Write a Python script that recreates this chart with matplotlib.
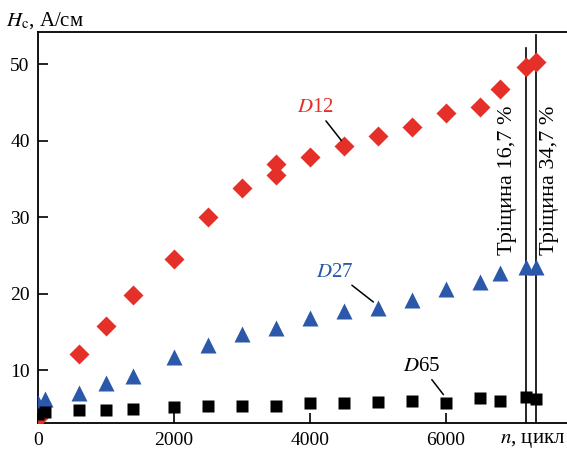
import numpy as np
import matplotlib.pyplot as plt

plt.rcParams['font.family'] = ['Liberation Serif', 'DejaVu Serif']
plt.rcParams['mathtext.fontset'] = 'stix'

# cycles, n
n_d12 = [0, 600, 1000, 1400, 2000, 2500, 3000, 3500, 3500, 4000, 4500, 5000, 5500, 6000, 6500, 6800, 7170, 7320]
hc_d12 = [3.8, 12.2, 15.8, 19.9, 24.5, 30.0, 33.8, 35.5, 36.9, 37.9, 39.3, 40.6, 41.8, 43.6, 44.4, 46.7, 49.6, 50.3]

n_d27 = [0, 100, 600, 1000, 1400, 2000, 2500, 3000, 3500, 4000, 4500, 5000, 5500, 6000, 6500, 6800, 7170, 7320]
hc_d27 = [5.8, 6.2, 7.1, 8.4, 9.3, 11.7, 13.3, 14.8, 15.6, 16.8, 17.8, 18.2, 19.2, 20.6, 21.5, 22.7, 23.5, 23.5]

n_d65 = [0, 100, 600, 1000, 1400, 2000, 2500, 3000, 3500, 4000, 4500, 5000, 5500, 6000, 6500, 6800, 7170, 7320]
hc_d65 = [4.3, 4.6, 4.8, 4.8, 5.0, 5.2, 5.3, 5.4, 5.4, 5.7, 5.8, 5.9, 6.0, 5.8, 6.4, 6.0, 6.5, 6.3]

crack_n = [7170, 7320]
crack_labels = ['Тріщина 16,7 %', 'Тріщина 34,7 %']

red = '#e5302a'
blue = '#2b58a8'

fig = plt.figure(figsize=(5.67, 4.58), dpi=100)
ax = fig.add_axes([0.067, 0.076, 0.933, 0.854])

ax.plot(n_d12, hc_d12, 'D', color=red, ms=10.5, mec='none', zorder=3)
ax.plot(n_d27, hc_d27, '^', color=blue, ms=11, mec='none', zorder=3)
ax.plot(n_d65, hc_d65, 's', color='black', ms=8.5, mec='none', zorder=3)

# crack lines
ax.plot([crack_n[0], crack_n[0]], [3, 52.1], color='black', lw=1.2, zorder=2)
ax.plot([crack_n[1], crack_n[1]], [3, 53.8], color='black', lw=1.2, zorder=2)
ax.text(crack_n[0] - 120, 34.8, crack_labels[0], rotation=90, ha='right', va='center', fontsize=16)
ax.text(crack_n[1] + 70, 34.8, crack_labels[1], rotation=90, ha='left', va='center', fontsize=16)

# series labels
ax.annotate('$\\mathit{D}$12', xy=(4500, 39.6), xytext=(4080, 43.1), color=red, fontsize=15,
            ha='center', va='bottom', arrowprops=dict(arrowstyle='-', color='black', lw=1.1, shrinkA=1, shrinkB=3))
ax.annotate('$\\mathit{D}$27', xy=(4980, 18.6), xytext=(4370, 21.6), color=blue, fontsize=15,
            ha='center', va='bottom', arrowprops=dict(arrowstyle='-', color='black', lw=1.1, shrinkA=1, shrinkB=3))
ax.annotate('$\\mathit{D}$65', xy=(6000, 6.4), xytext=(5640, 9.3), color='black', fontsize=15,
            ha='center', va='bottom', arrowprops=dict(arrowstyle='-', color='black', lw=1.1, shrinkA=1, shrinkB=3))

ax.set_xlim(0, 7780)
ax.set_ylim(3.1, 54.2)
ax.set_xticks([0, 2000, 4000, 6000])
ax.set_yticks([10, 20, 30, 40, 50])
ax.tick_params(direction='in', length=7, width=1.2, labelsize=14, pad=6)
ax.spines['right'].set_visible(False)
for s in ['left', 'top', 'bottom']:
    ax.spines[s].set_linewidth(1.3)

fig.text(0.01, 0.955, '$\\mathit{H}_{\\rm c}$, А/см', fontsize=15, va='center', ha='left')
fig.text(0.997, 0.038, '$\\mathit{n}$, цикл', fontsize=15, va='center', ha='right')

fig.savefig('out.png', dpi=100)
